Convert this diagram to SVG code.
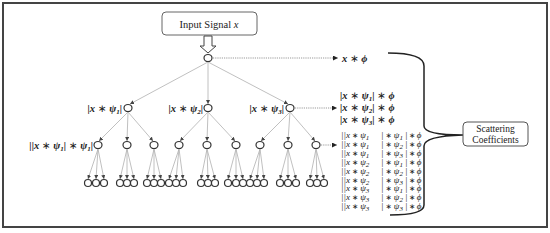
<svg xmlns="http://www.w3.org/2000/svg" width="550" height="233" viewBox="0 0 550 233">
<defs>
<marker id="ah" markerUnits="userSpaceOnUse" markerWidth="4" markerHeight="4" refX="4" refY="2" orient="auto"><path d="M0,0 L4,2 L0,4 z" fill="#444"/></marker>
<marker id="dh" markerUnits="userSpaceOnUse" markerWidth="5" markerHeight="5" refX="5" refY="2.5" orient="auto"><path d="M0,0 L5,2.5 L0,5 z" fill="#222"/></marker>
<style>
.n{fill:#fff;stroke:#333;stroke-width:1.2}
.e{stroke:#b0b0b0;stroke-width:0.8;fill:none;marker-end:url(#ah)}
.d{stroke:#999;stroke-width:1;stroke-dasharray:1.2 1;fill:none;marker-end:url(#dh)}
.t{font-family:"Liberation Serif",serif;fill:#222}
.m{font-family:"Liberation Serif","DejaVu Serif",serif;font-style:italic;fill:#222}
.lb{font-size:10.5px;font-weight:bold}
.mx{font-size:9px}
.op{font-family:"DejaVu Sans",sans-serif;font-style:normal;font-weight:normal}
.mx .op{font-size:7.5px}
.s{font-size:7px}
</style>
</defs>
<rect x="3" y="3" width="544" height="224" fill="#fff" stroke="#444" stroke-width="2"/>

<g id="input">
<rect x="162" y="12" width="95" height="23" rx="4" fill="#fff" stroke="#666" stroke-width="1"/>
<text class="t" x="209" y="27.5" font-size="10.5" text-anchor="middle">Input Signal <tspan font-style="italic">x</tspan></text>
<polygon points="204,36 212,36 212,46 216,46 208,53 200,46 204,46" fill="#fff" stroke="#444" stroke-width="1"/>
</g>

<g id="connectors">
<line class="e" x1="208" y1="62" x2="130" y2="104"/>
<line class="e" x1="208" y1="62" x2="208" y2="104"/>
<line class="e" x1="208" y1="62" x2="288" y2="104"/>
<line class="e" x1="128" y1="112" x2="99" y2="141"/>
<line class="e" x1="128" y1="112" x2="127" y2="141"/>
<line class="e" x1="128" y1="112" x2="153" y2="141"/>
<line class="e" x1="208" y1="112" x2="180" y2="141"/>
<line class="e" x1="208" y1="112" x2="207" y2="141"/>
<line class="e" x1="208" y1="112" x2="235" y2="141"/>
<line class="e" x1="290" y1="112" x2="261" y2="141"/>
<line class="e" x1="290" y1="112" x2="288" y2="141"/>
<line class="e" x1="290" y1="112" x2="315" y2="141"/>
<g id="leafedges">
<line class="e" x1="98" y1="149" x2="88" y2="179"/><line class="e" x1="98" y1="149" x2="96" y2="179"/><line class="e" x1="98" y1="149" x2="104" y2="179"/>
<line class="e" x1="127" y1="149" x2="120" y2="179"/><line class="e" x1="127" y1="149" x2="127" y2="179"/><line class="e" x1="127" y1="149" x2="134" y2="179"/>
<line class="e" x1="154" y1="149" x2="147" y2="179"/><line class="e" x1="154" y1="149" x2="154" y2="179"/><line class="e" x1="154" y1="149" x2="161" y2="179"/>
<line class="e" x1="179" y1="149" x2="169" y2="179"/><line class="e" x1="179" y1="149" x2="176" y2="179"/><line class="e" x1="179" y1="149" x2="183" y2="179"/>
<line class="e" x1="207" y1="149" x2="201" y2="179"/><line class="e" x1="207" y1="149" x2="208" y2="179"/><line class="e" x1="207" y1="149" x2="215" y2="179"/>
<line class="e" x1="236" y1="149" x2="228" y2="179"/><line class="e" x1="236" y1="149" x2="236" y2="179"/><line class="e" x1="236" y1="149" x2="243" y2="179"/>
<line class="e" x1="260" y1="149" x2="250" y2="179"/><line class="e" x1="260" y1="149" x2="257" y2="179"/><line class="e" x1="260" y1="149" x2="264" y2="179"/>
<line class="e" x1="288" y1="149" x2="280" y2="179"/><line class="e" x1="288" y1="149" x2="288" y2="179"/><line class="e" x1="288" y1="149" x2="296" y2="179"/>
<line class="e" x1="316" y1="149" x2="310" y2="179"/><line class="e" x1="316" y1="149" x2="317" y2="179"/><line class="e" x1="316" y1="149" x2="324" y2="179"/>
</g>
<line class="d" x1="213" y1="58" x2="338" y2="58"/>
<line class="d" x1="295" y1="108" x2="337" y2="108"/>
<line class="d" x1="321" y1="145" x2="337" y2="145"/>
<path d="M388,53 Q424,53 424,66 L424,126 Q424,135 463,135 Q424,136 424,146 L424,205 Q424,215 390,215" fill="none" stroke="#222" stroke-width="1.5"/>
</g>

<g id="root"><ellipse class="n" cx="208" cy="58" rx="4" ry="3.5"/></g>
<g id="l1"><ellipse class="n" cx="128" cy="108" rx="4" ry="3.5"/><ellipse class="n" cx="208" cy="108" rx="4" ry="3.5"/><ellipse class="n" cx="290" cy="108" rx="4" ry="3.5"/></g>
<g id="l2">
<ellipse class="n" cx="98" cy="145" rx="4" ry="3.5"/><ellipse class="n" cx="127" cy="145" rx="4" ry="3.5"/><ellipse class="n" cx="154" cy="145" rx="4" ry="3.5"/>
<ellipse class="n" cx="179" cy="145" rx="4" ry="3.5"/><ellipse class="n" cx="207" cy="145" rx="4" ry="3.5"/><ellipse class="n" cx="236" cy="145" rx="4" ry="3.5"/>
<ellipse class="n" cx="260" cy="145" rx="4" ry="3.5"/><ellipse class="n" cx="288" cy="145" rx="4" ry="3.5"/><ellipse class="n" cx="316" cy="145" rx="4" ry="3.5"/>
</g>
<g id="leaves">
<ellipse class="n" cx="88" cy="183" rx="3.5" ry="3.5"/><ellipse class="n" cx="96" cy="183" rx="3.5" ry="3.5"/><ellipse class="n" cx="104" cy="183" rx="3.5" ry="3.5"/>
<ellipse class="n" cx="120" cy="183" rx="3.5" ry="3.5"/><ellipse class="n" cx="127" cy="183" rx="3.5" ry="3.5"/><ellipse class="n" cx="134" cy="183" rx="3.5" ry="3.5"/>
<ellipse class="n" cx="147" cy="183" rx="3.5" ry="3.5"/><ellipse class="n" cx="154" cy="183" rx="3.5" ry="3.5"/><ellipse class="n" cx="161" cy="183" rx="3.5" ry="3.5"/>
<ellipse class="n" cx="169" cy="183" rx="3.5" ry="3.5"/><ellipse class="n" cx="176" cy="183" rx="3.5" ry="3.5"/><ellipse class="n" cx="183" cy="183" rx="3.5" ry="3.5"/>
<ellipse class="n" cx="201" cy="183" rx="3.5" ry="3.5"/><ellipse class="n" cx="208" cy="183" rx="3.5" ry="3.5"/><ellipse class="n" cx="215" cy="183" rx="3.5" ry="3.5"/>
<ellipse class="n" cx="228" cy="183" rx="3.5" ry="3.5"/><ellipse class="n" cx="236" cy="183" rx="3.5" ry="3.5"/><ellipse class="n" cx="243" cy="183" rx="3.5" ry="3.5"/>
<ellipse class="n" cx="250" cy="183" rx="3.5" ry="3.5"/><ellipse class="n" cx="257" cy="183" rx="3.5" ry="3.5"/><ellipse class="n" cx="264" cy="183" rx="3.5" ry="3.5"/>
<ellipse class="n" cx="280" cy="183" rx="3.5" ry="3.5"/><ellipse class="n" cx="288" cy="183" rx="3.5" ry="3.5"/><ellipse class="n" cx="296" cy="183" rx="3.5" ry="3.5"/>
<ellipse class="n" cx="310" cy="183" rx="3.5" ry="3.5"/><ellipse class="n" cx="317" cy="183" rx="3.5" ry="3.5"/><ellipse class="n" cx="324" cy="183" rx="3.5" ry="3.5"/>
</g>

<g id="labels">
<text class="m lb" x="122" y="112" text-anchor="end">|x <tspan class="op">∗</tspan> ψ<tspan class="s" dy="2">1</tspan><tspan dy="-2">|</tspan></text>
<text class="m lb" x="203" y="112" text-anchor="end">|x <tspan class="op">∗</tspan> ψ<tspan class="s" dy="2">2</tspan><tspan dy="-2">|</tspan></text>
<text class="m lb" x="284" y="112" text-anchor="end">|x <tspan class="op">∗</tspan> ψ<tspan class="s" dy="2">3</tspan><tspan dy="-2">|</tspan></text>
<text class="m lb" x="93" y="149" text-anchor="end">||x <tspan class="op">∗</tspan> ψ<tspan class="s" dy="2">1</tspan><tspan dy="-2">| </tspan><tspan class="op">∗</tspan> ψ<tspan class="s" dy="2">1</tspan><tspan dy="-2">|</tspan></text>
<text class="m lb" x="342" y="62">x <tspan class="op">∗</tspan> ϕ</text>
<text class="m lb" x="340" y="99">|x <tspan class="op">∗</tspan> ψ<tspan class="s" dy="2">1</tspan><tspan dy="-2">| </tspan><tspan class="op">∗</tspan> ϕ</text>
<text class="m lb" x="340" y="111">|x <tspan class="op">∗</tspan> ψ<tspan class="s" dy="2">2</tspan><tspan dy="-2">| </tspan><tspan class="op">∗</tspan> ϕ</text>
<text class="m lb" x="340" y="123">|x <tspan class="op">∗</tspan> ψ<tspan class="s" dy="2">3</tspan><tspan dy="-2">| </tspan><tspan class="op">∗</tspan> ϕ</text>
</g>

<g id="matrix" class="m mx">
<text y="138"><tspan x="341">||x</tspan><tspan class="op" dx="2">∗</tspan><tspan dx="2">ψ</tspan><tspan class="s" dy="2">1</tspan><tspan x="381" dy="-2">|</tspan><tspan class="op" dx="2">∗</tspan><tspan dx="2">ψ</tspan><tspan class="s" dy="2">1</tspan><tspan x="405" dy="-2">|</tspan><tspan class="op" dx="1.5">∗</tspan><tspan dx="1.5">ϕ</tspan></text>
<text y="146.9"><tspan x="341">||x</tspan><tspan class="op" dx="2">∗</tspan><tspan dx="2">ψ</tspan><tspan class="s" dy="2">1</tspan><tspan x="381" dy="-2">|</tspan><tspan class="op" dx="2">∗</tspan><tspan dx="2">ψ</tspan><tspan class="s" dy="2">2</tspan><tspan x="405" dy="-2">|</tspan><tspan class="op" dx="1.5">∗</tspan><tspan dx="1.5">ϕ</tspan></text>
<text y="155.8"><tspan x="341">||x</tspan><tspan class="op" dx="2">∗</tspan><tspan dx="2">ψ</tspan><tspan class="s" dy="2">1</tspan><tspan x="381" dy="-2">|</tspan><tspan class="op" dx="2">∗</tspan><tspan dx="2">ψ</tspan><tspan class="s" dy="2">3</tspan><tspan x="405" dy="-2">|</tspan><tspan class="op" dx="1.5">∗</tspan><tspan dx="1.5">ϕ</tspan></text>
<text y="164.7"><tspan x="341">||x</tspan><tspan class="op" dx="2">∗</tspan><tspan dx="2">ψ</tspan><tspan class="s" dy="2">2</tspan><tspan x="381" dy="-2">|</tspan><tspan class="op" dx="2">∗</tspan><tspan dx="2">ψ</tspan><tspan class="s" dy="2">1</tspan><tspan x="405" dy="-2">|</tspan><tspan class="op" dx="1.5">∗</tspan><tspan dx="1.5">ϕ</tspan></text>
<text y="173.6"><tspan x="341">||x</tspan><tspan class="op" dx="2">∗</tspan><tspan dx="2">ψ</tspan><tspan class="s" dy="2">2</tspan><tspan x="381" dy="-2">|</tspan><tspan class="op" dx="2">∗</tspan><tspan dx="2">ψ</tspan><tspan class="s" dy="2">2</tspan><tspan x="405" dy="-2">|</tspan><tspan class="op" dx="1.5">∗</tspan><tspan dx="1.5">ϕ</tspan></text>
<text y="182.5"><tspan x="341">||x</tspan><tspan class="op" dx="2">∗</tspan><tspan dx="2">ψ</tspan><tspan class="s" dy="2">2</tspan><tspan x="381" dy="-2">|</tspan><tspan class="op" dx="2">∗</tspan><tspan dx="2">ψ</tspan><tspan class="s" dy="2">3</tspan><tspan x="405" dy="-2">|</tspan><tspan class="op" dx="1.5">∗</tspan><tspan dx="1.5">ϕ</tspan></text>
<text y="191.4"><tspan x="341">||x</tspan><tspan class="op" dx="2">∗</tspan><tspan dx="2">ψ</tspan><tspan class="s" dy="2">3</tspan><tspan x="381" dy="-2">|</tspan><tspan class="op" dx="2">∗</tspan><tspan dx="2">ψ</tspan><tspan class="s" dy="2">1</tspan><tspan x="405" dy="-2">|</tspan><tspan class="op" dx="1.5">∗</tspan><tspan dx="1.5">ϕ</tspan></text>
<text y="200.3"><tspan x="341">||x</tspan><tspan class="op" dx="2">∗</tspan><tspan dx="2">ψ</tspan><tspan class="s" dy="2">3</tspan><tspan x="381" dy="-2">|</tspan><tspan class="op" dx="2">∗</tspan><tspan dx="2">ψ</tspan><tspan class="s" dy="2">2</tspan><tspan x="405" dy="-2">|</tspan><tspan class="op" dx="1.5">∗</tspan><tspan dx="1.5">ϕ</tspan></text>
<text y="209.2"><tspan x="341">||x</tspan><tspan class="op" dx="2">∗</tspan><tspan dx="2">ψ</tspan><tspan class="s" dy="2">3</tspan><tspan x="381" dy="-2">|</tspan><tspan class="op" dx="2">∗</tspan><tspan dx="2">ψ</tspan><tspan class="s" dy="2">3</tspan><tspan x="405" dy="-2">|</tspan><tspan class="op" dx="1.5">∗</tspan><tspan dx="1.5">ϕ</tspan></text>
</g>

<g id="scattering">
<rect x="463" y="122" width="65" height="24" rx="4" fill="#fff" stroke="#555" stroke-width="1"/>
<text class="t" x="495.5" y="132" font-size="9.5" text-anchor="middle">Scattering</text>
<text class="t" x="495.5" y="142.5" font-size="9.5" text-anchor="middle">Coefficients</text>
</g>
</svg>
